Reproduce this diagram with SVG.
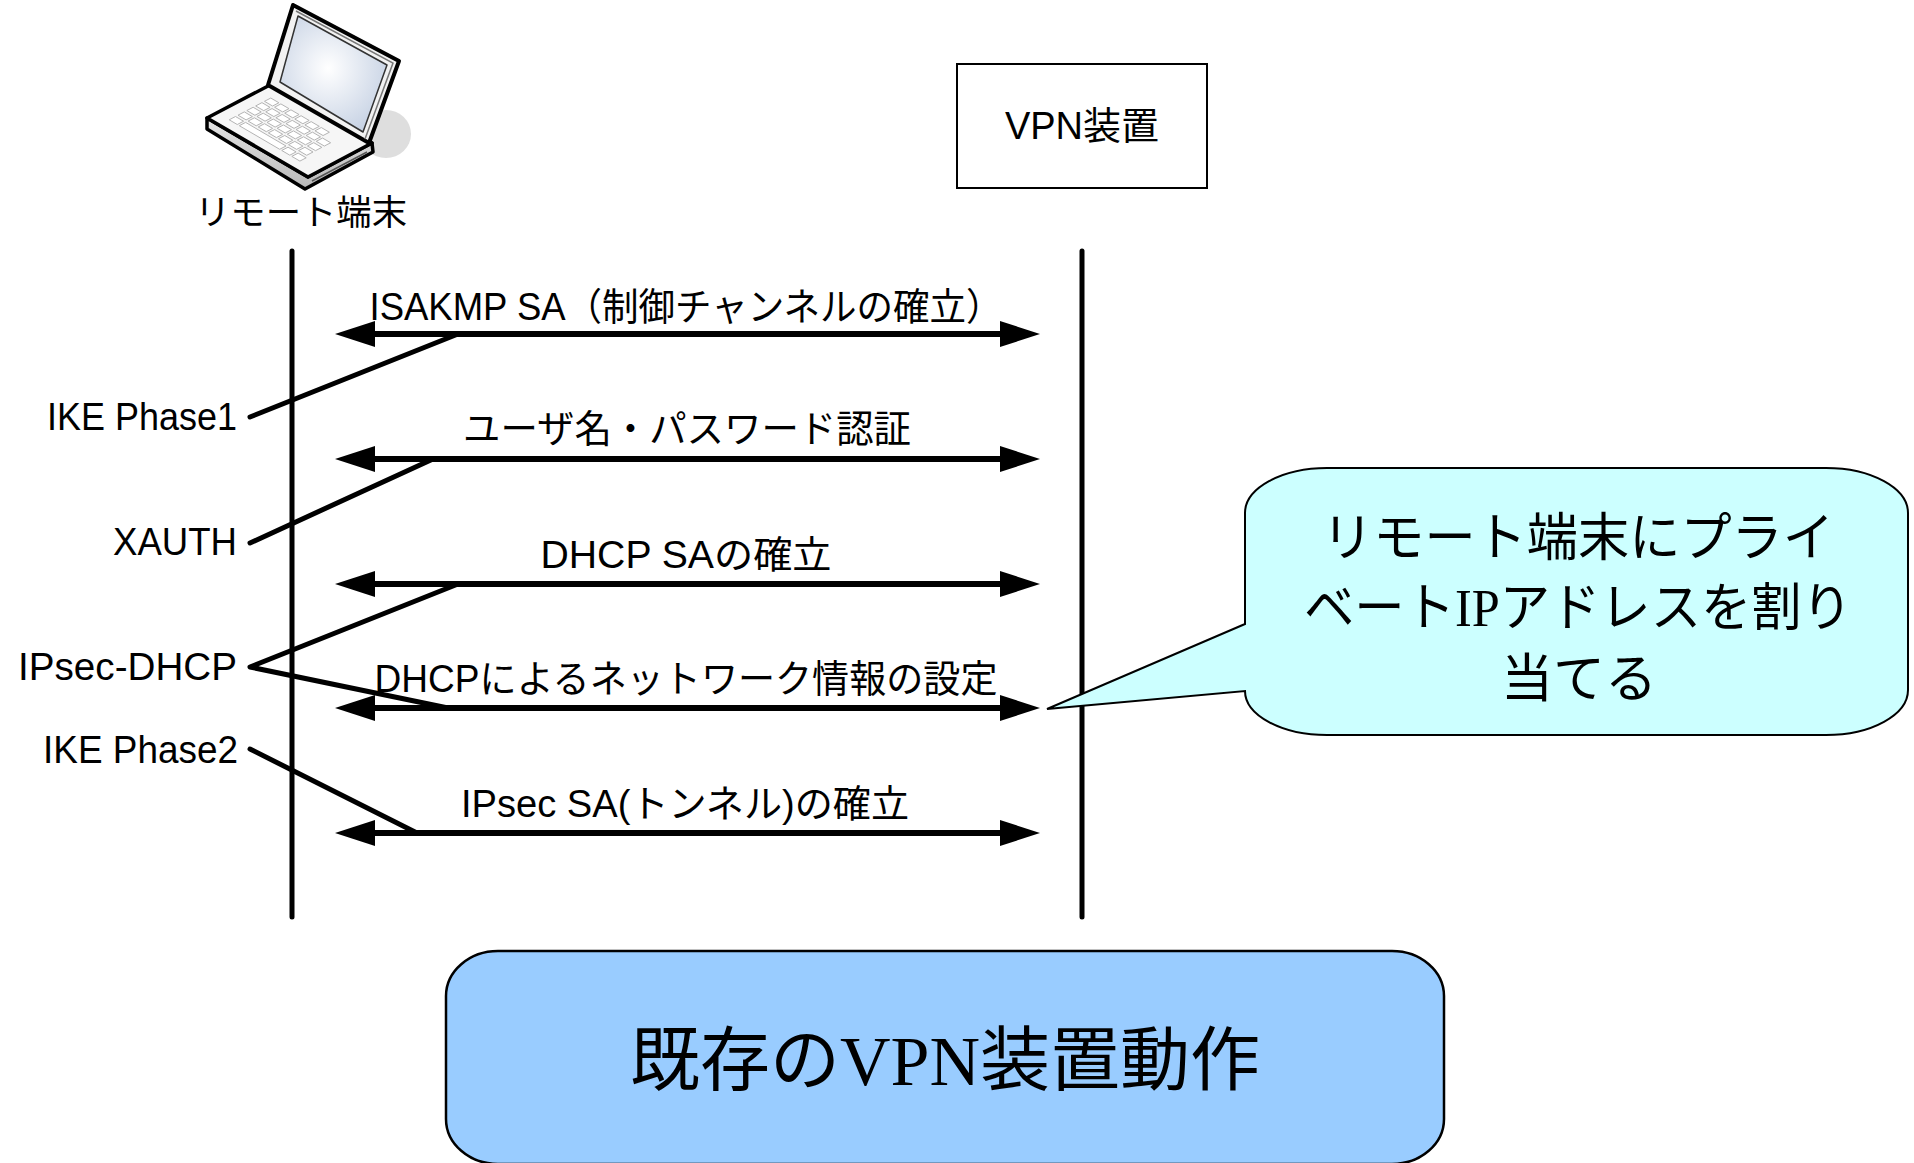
<svg xmlns="http://www.w3.org/2000/svg" width="1914" height="1163" viewBox="0 0 1914 1163">
  <style>
    .life { stroke: #000; stroke-width: 5; stroke-linecap: round; fill: none; }
    .msg { stroke: #000; stroke-width: 6; fill: none; marker-start: url(#head); marker-end: url(#head); }
    .lead { stroke: #000; stroke-width: 5; stroke-linecap: round; stroke-linejoin: round; fill: none; }
    .lbl { font-family: "Liberation Sans", "Noto Sans CJK JP", sans-serif; font-size: 38px; fill: #000; }
    .side { text-anchor: end; }
    .mid { text-anchor: middle; }
    .mixed { font-family: "Liberation Serif", "Noto Sans CJK JP", serif; fill: #000; text-anchor: middle; }
    .key { fill: #fff; stroke: #b4b4b4; stroke-width: 1; }
  </style>
  <defs>
    <marker id="head" viewBox="0 0 40 26" markerUnits="userSpaceOnUse" markerWidth="40" markerHeight="26" refX="30" refY="13" orient="auto-start-reverse">
      <path d="M0,0 L40,13 L0,26 Z" fill="#000"/>
    </marker>
    <radialGradient id="screenGlow" cx="0.45" cy="0.45" r="0.65">
      <stop offset="0" stop-color="#ffffff"/>
      <stop offset="1" stop-color="#c3cfe2"/>
    </radialGradient>
    <linearGradient id="baseSide" x1="0" y1="0" x2="0" y2="1">
      <stop offset="0" stop-color="#e6e6e6"/>
      <stop offset="1" stop-color="#b8b8b8"/>
    </linearGradient>
  </defs>

  <rect width="1914" height="1163" fill="#fff"/>

  <!-- remote terminal: laptop icon with caption -->
  <g id="remote-terminal">
    <ellipse cx="386" cy="134" rx="25" ry="24" fill="#dedede"/>
    <!-- base -->
    <polygon points="207,118 308,177 372,143 373,152 305,189 207,129" fill="url(#baseSide)" stroke="#000" stroke-width="3.5" stroke-linejoin="round"/>
    <polygon points="207,118 270,85 372,143 308,177" fill="#f6f6f6" stroke="#000" stroke-width="3.5" stroke-linejoin="round"/>
    <line x1="312" y1="181" x2="367" y2="152" stroke="#555" stroke-width="1.5"/>
    <g transform="matrix(1.01,0.59,0.63,-0.33,207,118)">
      <g class="keys">
        <rect class="key" vector-effect="non-scaling-stroke" x="12" y="16" width="8" height="10"/>
        <rect class="key" vector-effect="non-scaling-stroke" x="22" y="16" width="40" height="10"/>
        <rect class="key" vector-effect="non-scaling-stroke" x="64" y="16" width="8" height="10"/>
        <rect class="key" vector-effect="non-scaling-stroke" x="74" y="16" width="8" height="10"/>
        <rect class="key" vector-effect="non-scaling-stroke" x="12" y="30" width="8" height="10"/>
        <rect class="key" vector-effect="non-scaling-stroke" x="22" y="30" width="8" height="10"/>
        <rect class="key" vector-effect="non-scaling-stroke" x="32" y="30" width="8" height="10"/>
        <rect class="key" vector-effect="non-scaling-stroke" x="42" y="30" width="8" height="10"/>
        <rect class="key" vector-effect="non-scaling-stroke" x="52" y="30" width="8" height="10"/>
        <rect class="key" vector-effect="non-scaling-stroke" x="62" y="30" width="8" height="10"/>
        <rect class="key" vector-effect="non-scaling-stroke" x="72" y="30" width="8" height="10"/>
        <rect class="key" vector-effect="non-scaling-stroke" x="12" y="44" width="8" height="10"/>
        <rect class="key" vector-effect="non-scaling-stroke" x="22" y="44" width="8" height="10"/>
        <rect class="key" vector-effect="non-scaling-stroke" x="32" y="44" width="8" height="10"/>
        <rect class="key" vector-effect="non-scaling-stroke" x="42" y="44" width="8" height="10"/>
        <rect class="key" vector-effect="non-scaling-stroke" x="52" y="44" width="8" height="10"/>
        <rect class="key" vector-effect="non-scaling-stroke" x="62" y="44" width="8" height="10"/>
        <rect class="key" vector-effect="non-scaling-stroke" x="72" y="44" width="8" height="10"/>
        <rect class="key" vector-effect="non-scaling-stroke" x="12" y="58" width="8" height="10"/>
        <rect class="key" vector-effect="non-scaling-stroke" x="22" y="58" width="8" height="10"/>
        <rect class="key" vector-effect="non-scaling-stroke" x="32" y="58" width="8" height="10"/>
        <rect class="key" vector-effect="non-scaling-stroke" x="42" y="58" width="8" height="10"/>
        <rect class="key" vector-effect="non-scaling-stroke" x="52" y="58" width="8" height="10"/>
        <rect class="key" vector-effect="non-scaling-stroke" x="62" y="58" width="8" height="10"/>
        <rect class="key" vector-effect="non-scaling-stroke" x="72" y="58" width="8" height="10"/>
        <rect class="key" vector-effect="non-scaling-stroke" x="12" y="72" width="8" height="10"/>
        <rect class="key" vector-effect="non-scaling-stroke" x="22" y="72" width="8" height="10"/>
        <rect class="key" vector-effect="non-scaling-stroke" x="32" y="72" width="8" height="10"/>
        <rect class="key" vector-effect="non-scaling-stroke" x="42" y="72" width="8" height="10"/>
        <rect class="key" vector-effect="non-scaling-stroke" x="52" y="72" width="8" height="10"/>
        <rect class="key" vector-effect="non-scaling-stroke" x="62" y="72" width="8" height="10"/>
      </g>
    </g>
    <!-- lid -->
    <polygon points="293,5 399,61 369,143 268,85" fill="#f2f2f2" stroke="#000" stroke-width="4" stroke-linejoin="round"/>
    <polyline points="296,11 393,63 365,139" fill="none" stroke="#777" stroke-width="1.5"/>
    <polygon points="298,16 387,65 363,132 280,82" fill="url(#screenGlow)" stroke="#333" stroke-width="1.5" stroke-linejoin="round"/>
    <text x="301" y="225" font-family="'Noto Sans CJK JP', sans-serif" font-size="35" text-anchor="middle" textLength="212" lengthAdjust="spacingAndGlyphs">リモート端末</text>
  </g>

  <!-- VPN gateway -->
  <g id="vpn-device">
    <rect x="957" y="64" width="250" height="124" fill="#fff" stroke="#000" stroke-width="2"/>
    <text class="lbl mid" x="1082" y="139">VPN装置</text>
  </g>

  <!-- lifelines, message arrows and phase leaders -->
  <g id="connectors">
    <line class="life" x1="292" y1="251" x2="292" y2="917"/>
    <line class="life" x1="1082" y1="251" x2="1082" y2="917"/>

    <line class="msg" x1="345" y1="334" x2="1030" y2="334"/>
    <line class="msg" x1="345" y1="459" x2="1030" y2="459"/>
    <line class="msg" x1="345" y1="584" x2="1030" y2="584"/>
    <line class="msg" x1="345" y1="708" x2="1030" y2="708"/>
    <line class="msg" x1="345" y1="833" x2="1030" y2="833"/>

    <line class="lead" x1="250" y1="417" x2="458" y2="334"/>
    <line class="lead" x1="250" y1="543" x2="433" y2="459"/>
    <polyline class="lead" points="458,584 250,667 448,708"/>
    <line class="lead" x1="250" y1="749" x2="417" y2="833"/>
  </g>

  <!-- message labels -->
  <g id="message-labels">
    <text class="lbl mid" x="686" y="320" textLength="633" lengthAdjust="spacingAndGlyphs">ISAKMP SA（制御チャンネルの確立）</text>
    <text class="lbl mid" x="687" y="442" textLength="448" lengthAdjust="spacingAndGlyphs">ユーザ名・パスワード認証</text>
    <text class="lbl mid" x="686" y="568" textLength="291" lengthAdjust="spacingAndGlyphs">DHCP SAの確立</text>
    <text class="lbl mid" x="686" y="692" textLength="623" lengthAdjust="spacingAndGlyphs">DHCPによるネットワーク情報の設定</text>
    <text class="lbl mid" x="685" y="817" textLength="448" lengthAdjust="spacingAndGlyphs">IPsec SA(トンネル)の確立</text>
  </g>

  <!-- phase labels -->
  <g id="phase-labels">
    <text class="lbl side" x="237" y="430" textLength="190" lengthAdjust="spacingAndGlyphs">IKE Phase1</text>
    <text class="lbl side" x="237" y="555" textLength="124" lengthAdjust="spacingAndGlyphs">XAUTH</text>
    <text class="lbl side" x="237" y="680" textLength="219" lengthAdjust="spacingAndGlyphs">IPsec-DHCP</text>
    <text class="lbl side" x="238" y="763" textLength="195" lengthAdjust="spacingAndGlyphs">IKE Phase2</text>
  </g>

  <!-- address assignment callout -->
  <g id="callout">
    <path d="M1327,468 H1826 A82,45 0 0 1 1908,513 V690 A82,45 0 0 1 1826,735 H1327 A82,44 0 0 1 1245,691 L1047,709 L1245,624 V513 A82,45 0 0 1 1327,468 Z" fill="#ccffff" stroke="#000" stroke-width="2" stroke-linejoin="miter"/>
    <text class="mixed" x="1578" y="556" font-size="52" textLength="512" lengthAdjust="spacingAndGlyphs">リモート端末にプライ</text>
    <text class="mixed" x="1578" y="626" font-size="52" textLength="548" lengthAdjust="spacingAndGlyphs">ベートIPアドレスを割り</text>
    <text class="mixed" x="1579" y="697" font-size="52">当てる</text>
  </g>

  <!-- title panel -->
  <g id="title">
    <rect x="446" y="951" width="998" height="213" rx="52" ry="45" fill="#99ccff" stroke="#000" stroke-width="2.5"/>
    <text class="mixed" x="945" y="1085" font-size="70">既存のVPN装置動作</text>
  </g>
</svg>
